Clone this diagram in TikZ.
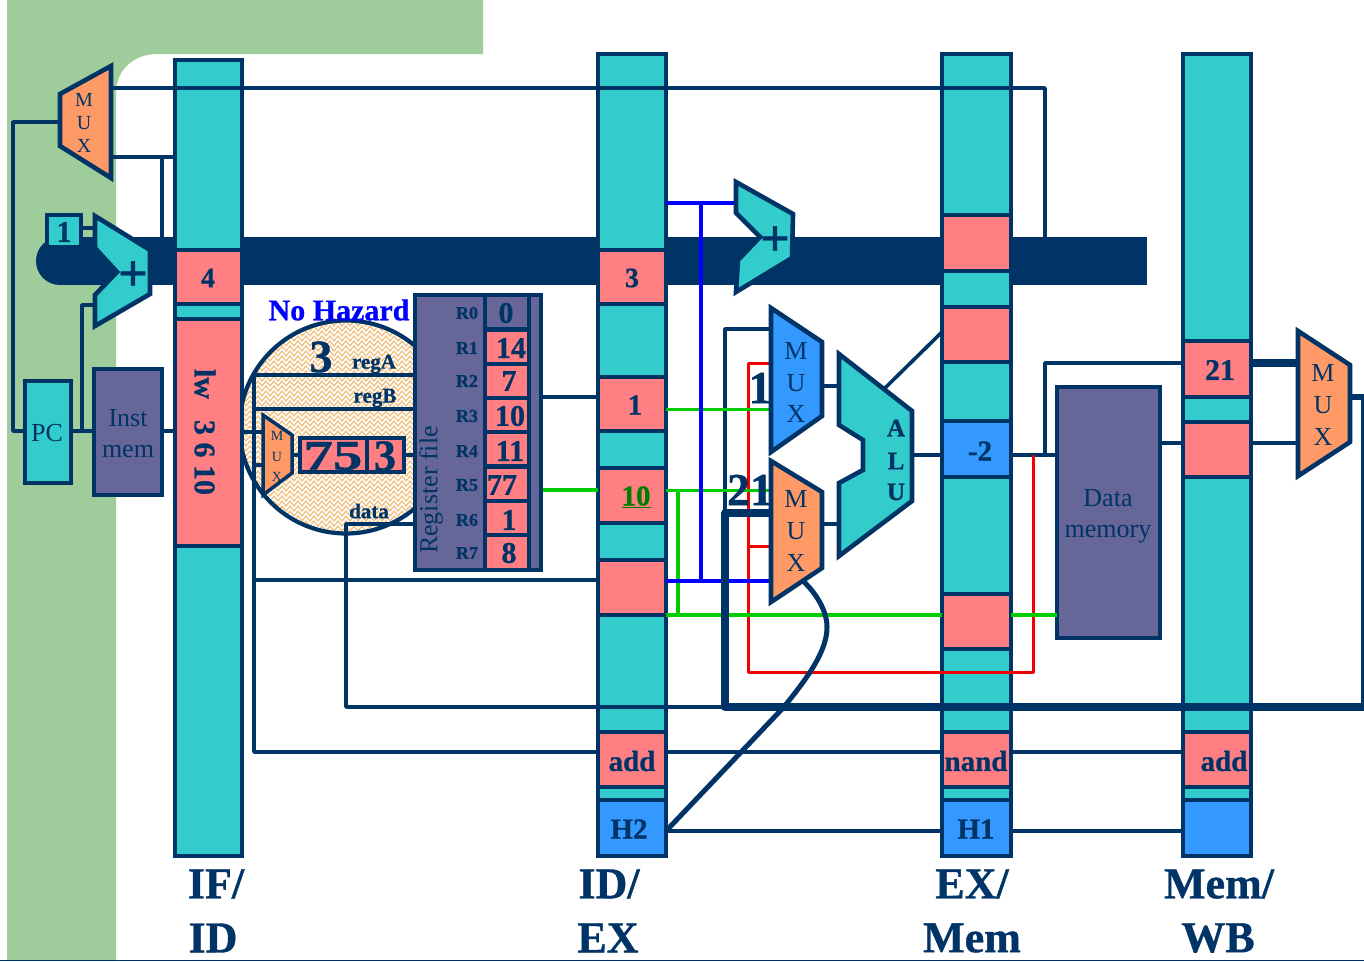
\documentclass[tikz,border=0pt]{standalone}
\usepackage{fontspec}
\setmainfont[BoldFeatures={FakeBold=0.8}]{Liberation Serif}
\usetikzlibrary{decorations.pathmorphing}
\definecolor{navy}{HTML}{003366}
\definecolor{teal2}{HTML}{33CCCC}
\definecolor{rose}{HTML}{FF7F82}
\definecolor{sky}{HTML}{3399FF}
\definecolor{amber}{HTML}{FF9966}
\definecolor{plum}{HTML}{666699}
\definecolor{leaf}{HTML}{9ECC9A}
\definecolor{hatchbase}{HTML}{F2C080}
\definecolor{gline}{HTML}{00CC00}
\definecolor{bline}{HTML}{0000FF}
\definecolor{rline}{HTML}{F00000}
\definecolor{gtext}{HTML}{008000}
\newcommand{\fs}[1]{\fontsize{#1}{#1}\selectfont}
\newcommand{\rectbox}[6]{\node[#6,inner sep=0pt,outer sep=0pt,anchor=north west,minimum width={(#4-#2)*1pt},minimum height={(#5-#3)*1pt}] (#1) at (#2,#3) {};}
\tikzset{
  barbox/.style={draw=navy,line width=4pt,fill=teal2},
  redcell/.style={draw=navy,line width=4pt,fill=rose},
  bluecell/.style={draw=navy,line width=4pt,fill=sky},
  purplebox/.style={draw=navy,line width=4.5pt,fill=plum},
  tealbox/.style={draw=navy,line width=4.5pt,fill=teal2},
  wire/.style={draw=navy,line width=3.6pt,line join=round},
  hwire/.style={draw=navy,line width=7.5pt,line join=round},
  grn/.style={draw=gline,line width=3pt},
  grnb/.style={draw=gline,line width=4.8pt},
  blu/.style={draw=bline,line width=3.8pt},
  rd/.style={draw=rline,line width=3pt,line join=round},
  muxa/.style={draw=navy,line width=4.6pt,fill=amber,line join=miter},
  muxb/.style={draw=navy,line width=4.6pt,fill=sky,line join=miter},
  addr/.style={draw=navy,line width=4.6pt,fill=teal2,line join=miter},
  bt/.style={inner sep=0pt,text=navy,font=\bfseries\fs{#1}},
  rt/.style={inner sep=0pt,text=navy,font=\fs{#1}},
}
\begin{document}
\begin{tikzpicture}[x=1pt,y=-1pt]
\useasboundingbox (0,0) rectangle (1364,961);
\fill[white] (0,0) rectangle (1364,961);
% green background
\fill[leaf] (7,0) -- (483,0) -- (483,54) -- (157,54) .. controls (135,54) and (118,68) .. (116,90) -- (116,961) -- (7,961) -- cycle;
\draw[navy,line width=1.5pt] (0,960.3) -- (1364,960.3);
% lens
\begin{scope}
  \clip (346,427) circle (106.5);
  \fill[hatchbase] (230,310) rectangle (460,545);
  \foreach \yy in {316,321,...,540}
    \draw[white,line width=1.5pt,decorate,decoration={zigzag,segment length=8pt,amplitude=2.5pt}] (232,\yy) -- (460,\yy);
\end{scope}
\node[circle,draw=navy,line width=4.2pt,minimum size=213pt,inner sep=0pt,outer sep=0pt] (lens) at (346,427) {};
% bus
\fill[navy] (60,261) circle (24);
\fill[navy] (60,237) rectangle (1147,285);
\coordinate (busJ) at (1045,237);
\coordinate (busT) at (162,237);
% pipeline bars
\rectbox{ifid}{175}{60}{242}{856}{barbox}
\rectbox{idex}{598}{54}{666}{856}{barbox}
\rectbox{exmem}{942}{54}{1011}{856}{barbox}
\rectbox{memwb}{1183}{54}{1251}{856}{barbox}
% cells
\rectbox{c4}{175}{250}{242}{304}{redcell}
\rectbox{clw}{175}{319}{242}{546}{redcell}
\rectbox{d3}{598}{250}{666}{304}{redcell}
\rectbox{d1}{598}{377}{666}{431}{redcell}
\rectbox{d10}{598}{468}{666}{523}{redcell}
\rectbox{dx}{598}{560}{666}{615}{redcell}
\rectbox{dadd}{598}{732}{666}{787}{redcell}
\rectbox{dh}{598}{800}{666}{856}{bluecell}
\rectbox{e1}{942}{215}{1011}{271}{redcell}
\rectbox{e2}{942}{307}{1011}{362}{redcell}
\rectbox{e3}{942}{421}{1011}{477}{bluecell}
\rectbox{e4}{942}{594}{1011}{649}{redcell}
\rectbox{eadd}{942}{732}{1011}{787}{redcell}
\rectbox{eh}{942}{800}{1011}{856}{bluecell}
\rectbox{m1}{1183}{341}{1251}{397}{redcell}
\rectbox{m2}{1183}{422}{1251}{477}{redcell}
\rectbox{madd}{1183}{732}{1251}{787}{redcell}
\rectbox{mh}{1183}{800}{1251}{856}{bluecell}
% boxes
\rectbox{pc}{25}{381}{71}{483}{tealbox}
\rectbox{inst}{94}{369}{162}{495}{purplebox}
\rectbox{dmem}{1057}{387}{1160}{638}{purplebox}
% ports of the polygons
\coordinate (mpcOut) at (60,122);
\coordinate (mpcA) at (110,88);
\coordinate (mpcB) at (110,157);
\coordinate (add1B) at (95,305);
\coordinate (add2A) at (736,203);
\coordinate (mu1A) at (771,329);
\coordinate (mu1R) at (771,363);
\coordinate (mu1G) at (771,409);
\coordinate (mu1O) at (822,386);
\coordinate (mu2T) at (771,490);
\coordinate (mu2A) at (771,513);
\coordinate (mu2R) at (771,546);
\coordinate (mu2B) at (771,581);
\coordinate (mu2O) at (822,524);
\coordinate (mu2C) at (803,581);
\coordinate (aluA) at (839,386);
\coordinate (aluB) at (839,524);
\coordinate (aluO) at (912,455);
\coordinate (aluD) at (885,388);
\coordinate (wbA) at (1297,363);
\coordinate (wbB) at (1297,443);
\coordinate (wbO) at (1350,397);
\coordinate (rfA) at (415,375);
\coordinate (rfB) at (415,409);
\coordinate (rfD) at (415,524);
\coordinate (rfO) at (415,455);
\coordinate (rfR) at (541,397);
\coordinate (rfG) at (541,490);
\coordinate (rmuxA) at (263,432);
\coordinate (rmuxB) at (263,465);
\coordinate (rmuxO) at (292,455);
\coordinate (edge) at (1364,707);
% navy wires
\draw[wire] (mpcOut) -- (13,122) -- (13,431) -- (pc.west |- 0,431);
\draw[wire] (mpcB) -- (ifid.west |- mpcB);
\draw[wire] (162,157) -- (busT);
\draw[wire] (pc.east |- 0,431) -- (inst.west |- 0,431);
\draw[wire] (82,431) -- (82,305) -- (add1B);
\draw[wire] (inst.east |- 0,431) -- (ifid.west |- 0,431);
\draw[wire] (rfA) -- (254,375) -- (254,752) -- (idex.west |- 0,752);
\draw[wire] (rfB) -- (254,409);
\draw[wire] (254,580) -- (idex.west |- 0,580);
\draw[wire] (ifid.east |- rmuxA) -- (rmuxA);
\draw[wire] (254,465) -- (rmuxB);
\draw[wire] (rfD) -- (346,524) -- (346,707) -- (724,707);
\draw[wire] (rfR) -- (idex.west |- rfR);
\draw[wire] (idex.east |- 0,752) -- (exmem.west |- 0,752);
\draw[wire] (exmem.east |- 0,752) -- (memwb.west |- 0,752);
\draw[wire] (idex.east |- 0,831) -- (exmem.west |- 0,831);
\draw[wire] (exmem.east |- 0,831) -- (memwb.west |- 0,831);
\draw[wire] (mu1O) -- (aluA);
\draw[wire] (mu2O) -- (aluB);
\draw[wire] (aluO) -- (exmem.west |- aluO);
\draw[wire] (aluD) -- (e2.west |- 0,332);
\draw[wire] (exmem.east |- 0,455) -- (dmem.west |- 0,455);
\draw[wire] (1045,455) -- (1045,363) -- (memwb.west |- 0,363);
\draw[wire] (dmem.east |- 0,443) -- (memwb.west |- 0,443);
\draw[wire] (memwb.east |- wbB) -- (wbB);
\draw[wire] (mu1A) -- (725,329) -- (725,515);
% coloured wires
\draw[rd] (mu1R) -- (748,363) -- (748,672) -- (1033,672) -- (1033,455);
\draw[rd] (748,546) -- (mu2R);
\draw[grn] (d1.east |- mu1G) -- (mu1G);
\draw[grnb] (rfG) -- (idex.west |- rfG);
\draw[grn] (idex.east |- mu2T) -- (mu2T);
\draw[grnb] (678,490) -- (678,615);
\draw[grnb] (idex.east |- 0,615) -- (exmem.west |- 0,615);
\draw[grnb] (exmem.east |- 0,615) -- (dmem.west |- 0,615);
\draw[blu] (idex.east |- add2A) -- (add2A);
\draw[blu] (701,203) -- (701,581);
\draw[blu] (idex.east |- mu2B) -- (mu2B);
% labels partly hidden by the muxes
\node[bt=46] (lab1) at (760,388) {1};
\node[bt=46] (lab21) at (750,490) {21};
% wires across the bars
\draw[wire] (mpcA) -- (busJ |- mpcA) -- (busJ);
\draw[hwire] (edge) -- (725,707) -- (725,513) -- (mu2A);
\draw[line width=8pt,navy] (memwb.east |- wbA) -- (wbA);
\draw[line width=6pt,navy] (wbO) -- (1364,397);
\draw[wire] (1362.5,397) -- (1362.5,707);
\draw[line width=5pt,navy,line join=round] (dh.east |- 0,831) -- (783,708) .. controls (810,675) and (827,650) .. (827,627) .. controls (827,610) and (815,592) .. (mu2C);
% inc box
\rectbox{one}{47}{215}{81}{247}{tealbox}
\draw[wire] (one.east |- 0,228) -- (95,228);
\node[bt=30] (lab1b) at (64,232) {1};
% polygons
\draw[muxa] (111,66) -- (111,178) -- (60,146) -- (60,94) -- cycle;
\draw[addr] (95,216) -- (150,250) -- (150,294) -- (95,326) -- (95,295) -- (117,272) -- (95,248) -- cycle;
\draw[addr] (736,182) -- (793,214) -- (792,258) -- (736,292) -- (738,260) -- (760,237) -- (736,213) -- cycle;
\draw[muxb] (771,308) -- (822,342) -- (822,416) -- (771,452) -- cycle;
\draw[muxa] (771,461) -- (822,492) -- (822,568) -- (771,602) -- cycle;
\draw[addr] (839,354) -- (912,411) -- (912,501) -- (839,556) -- (839,483) -- (863,470) -- (863,440) -- (839,425) -- cycle;
\draw[muxa] (1298,331) -- (1350,365) -- (1350,442) -- (1298,476) -- cycle;
% register file
\rectbox{rf}{415}{295}{541}{570}{purplebox}
\rectbox{rc0}{485}{295}{529}{329.5}{purplebox}
\rectbox{rc1}{485}{329.5}{529}{364}{purplebox,fill=rose}
\rectbox{rc2}{485}{364}{529}{398}{purplebox,fill=rose}
\rectbox{rc3}{485}{398}{529}{432}{purplebox,fill=rose}
\rectbox{rc4}{485}{432}{529}{466.5}{purplebox,fill=rose}
\rectbox{rc5}{485}{466.5}{529}{501}{purplebox,fill=rose}
\rectbox{rc6}{485}{501}{529}{535}{purplebox,fill=rose}
\rectbox{rc7}{485}{535}{529}{570}{purplebox,fill=rose}
\foreach \nm/\yy/\vv/\xx in {0/313/0/506,1/348/14/511,2/381/7/509,3/416/10/510,4/451/11/510,5/485/77/502,6/520/1/509,7/553/8/509}{
  \node[bt=18] (rl\nm) at (467,\yy) {R\nm};
  \node[bt=30] (rv\nm) at (\xx,\yy) {\vv};
}
\node[rt=26,rotate=90] (rftxt) at (431,490) {Register file};
% mini mux and latch inside the lens
\draw[muxa,line width=3.5pt] (263,415) -- (292,435) -- (292,473) -- (263,495) -- cycle;
\rectbox{latch}{300}{438}{404}{472}{redcell}
\draw[wire] (latch.east) -- (rfO);
\draw[wire] (rmuxO) -- (latch.west);
\draw[navy,line width=3.6pt] (367,438) -- (367,472);
\node[rt=14] (mm) at (277,436) {M};
\node[rt=14] (mu) at (277,457) {U};
\node[rt=14] (mx) at (277,477) {X};
\node[bt=42,xscale=1.4] (l75) at (333,456) {75};
\node[bt=44] (l3) at (385,456) {3};
\node[bt=46] (l3big) at (321,357) {3};
\node[bt=21] (rega) at (374,364) {regA};
\node[bt=21] (regb) at (375,398) {regB};
\node[bt=21] (dat) at (369,511) {data};
\node[inner sep=0pt,text=bline,font=\bfseries\fs{30}] (nohaz) at (339,310) {No Hazard};
% texts
\node[rt=20] (t1) at (84,100) {M};
\node[rt=20] (t2) at (84,123) {U};
\node[rt=20] (t3) at (84,146) {X};
\node[bt=52] (pl1) at (133,276) {+};
\node[bt=52] (pl2) at (775,241) {+};
\node[rt=26] (tpc) at (47,433) {PC};
\node[rt=26] (tinst) at (128,418) {Inst};
\node[rt=26] (tmem) at (128,451) {mem};
\node[rt=26] (tdata) at (1108,498) {Data};
\node[rt=26] (tmemo) at (1108,534) {memory};
\node[rt=26] (a1) at (796,351) {M};
\node[rt=26] (a2) at (796,383) {U};
\node[rt=26] (a3) at (796,414) {X};
\node[rt=26] (b1) at (796,499) {M};
\node[rt=26] (b2) at (796,531) {U};
\node[rt=26] (b3) at (796,563) {X};
\node[rt=26] (w1) at (1323,373) {M};
\node[rt=26] (w2) at (1323,405) {U};
\node[rt=26] (w3) at (1323,437) {X};
\node[bt=25] (ua) at (896,428) {A};
\node[bt=25] (ul) at (896,461) {L};
\node[bt=25] (uu) at (896,492) {U};
\node[bt=28] (v4) at (208,278) {4};
\node[bt=30,rotate=-90] (vlw) at (205,432) {lw\hspace{0.7em}3 6 10};
\node[bt=28] (v3) at (632,278) {3};
\node[bt=29] (v1) at (635,405) {1};
\node[inner sep=0pt,text=gtext,font=\bfseries\fs{29}] (v10) at (636,497) {\underline{10}};
\node[bt=29] (vadd) at (632,761) {add};
\node[bt=29] (vh2) at (629,829) {H2};
\node[bt=29] (vm2) at (980,451) {-2};
\node[bt=29] (vnand) at (976,761) {nand};
\node[bt=29] (vh1) at (976,829) {H1};
\node[bt=30] (v21) at (1220,370) {21};
\node[bt=29] (vadd2) at (1224,761) {add};
% stage names
\node[bt=44] (s1a) at (216,884) {IF/};
\node[bt=44] (s1b) at (213,938) {ID};
\node[bt=44] (s2a) at (609,884) {ID/};
\node[bt=44] (s2b) at (608,938) {EX};
\node[bt=44] (s3a) at (972,884) {EX/};
\node[bt=44] (s3b) at (972,938) {Mem};
\node[bt=44] (s4a) at (1219,884) {Mem/};
\node[bt=44] (s4b) at (1218,938) {WB};
\end{tikzpicture}
\end{document}
